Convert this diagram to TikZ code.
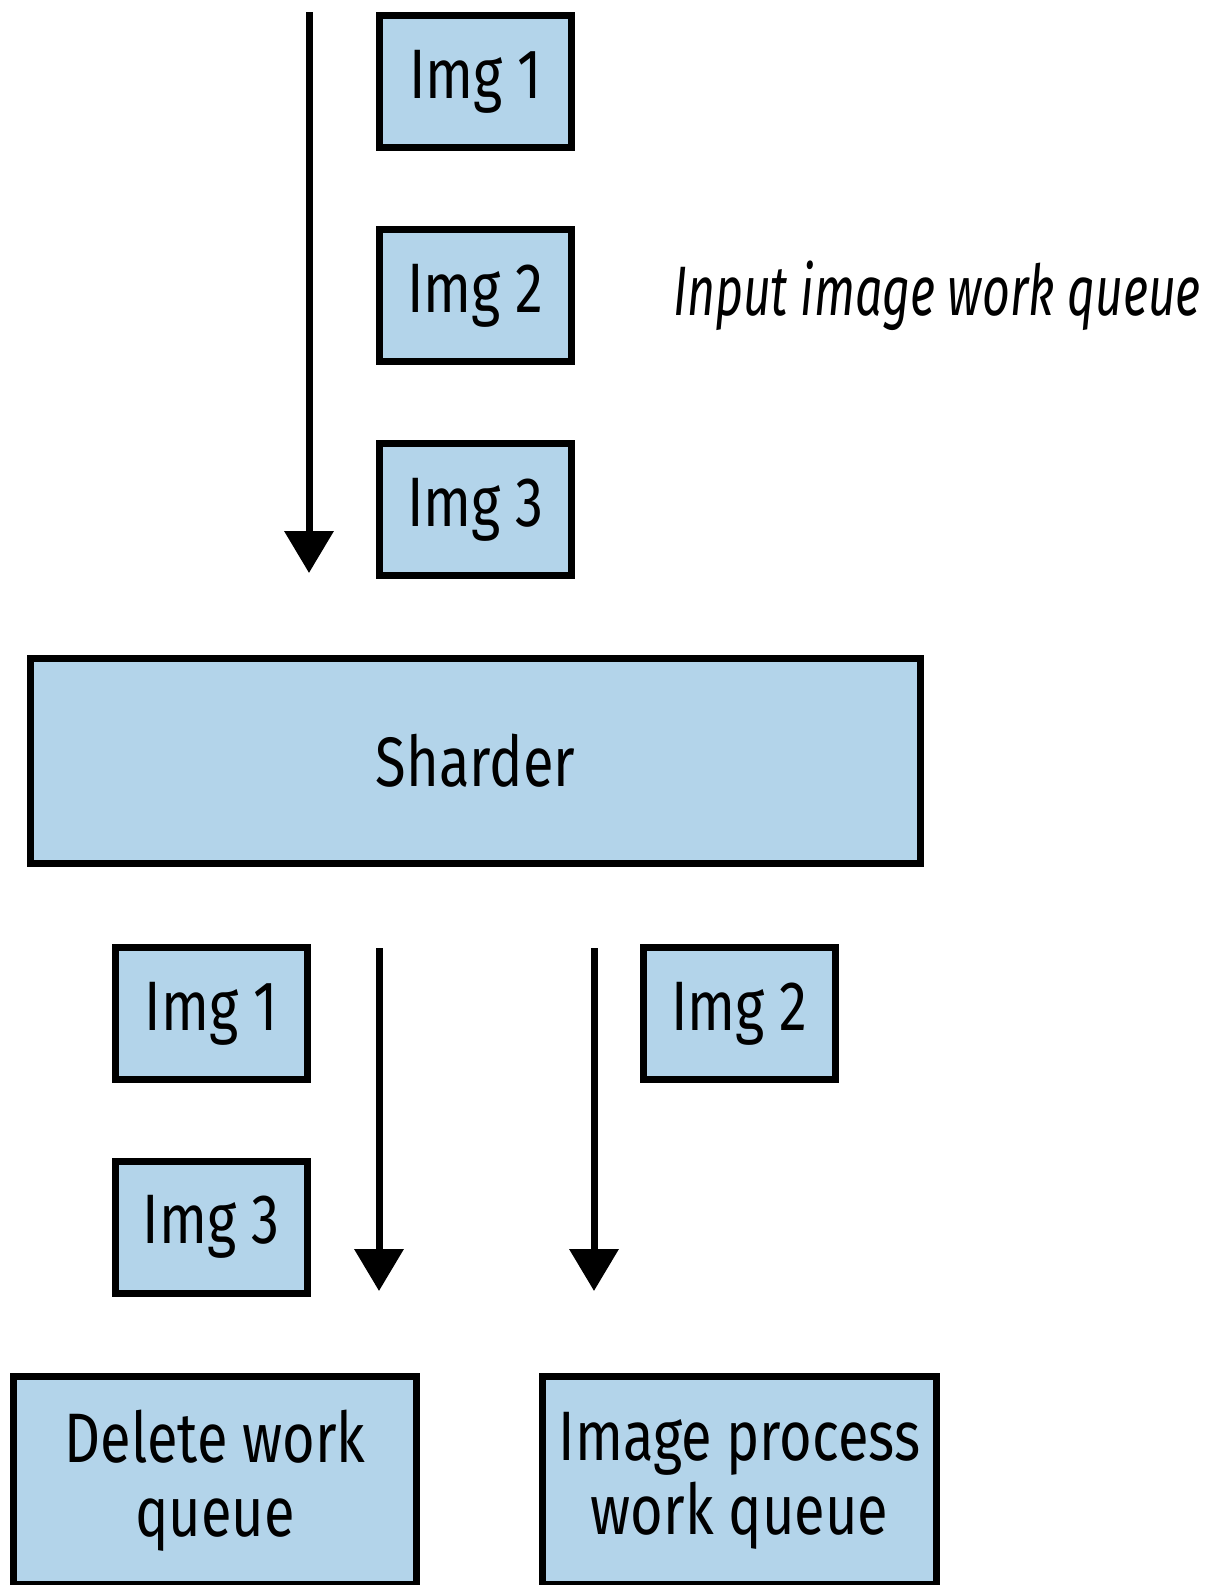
\documentclass[tikz,border=0pt]{standalone}
\usepackage{fontspec}
\setmainfont{Fira Sans}[FakeStretch=0.8]
\newfontfamily\notefont{Fira Sans}[FakeStretch=0.69]
\usetikzlibrary{arrows.meta,positioning}
\definecolor{qblue}{RGB}{179,212,234}

\begin{document}
\begin{tikzpicture}[
    x=0.5pt, y=-0.5pt,
    box/.style={draw=black, fill=qblue, line width=3.5pt, align=center, inner sep=0pt, font=\fontsize{35}{37}\selectfont},
    img/.style={box, minimum width=96pt, minimum height=66pt},
    flow/.style={line width=3.5pt, -{Triangle[width=24pt,length=21pt]}},
    note/.style={font=\fontsize{35}{37}\notefont\itshape}
]
    \useasboundingbox (0,0) rectangle (1221,1585);

    % Input queue
    \node[img] (img1a) at (475.5, 81.5) {Img 1};
    \node[img] (img2a) at (475.5, 295.5) {Img 2};
    \node[img] (img3a) at (475.5, 509.5) {Img 3};
    \node[note] (inlabel) at (937, 296) {Input image work queue};

    % Sharder
    \node[box, minimum width=445pt, minimum height=102.5pt] (sharder) at (475.5, 761) {Sharder};

    % Output queues
    \node[img] (img1b) at (211, 1013.5) {Img 1};
    \node[img] (img3b) at (211, 1227) {Img 3};
    \node[img] (img2b) at (739.5, 1013.5) {Img 2};
    \node[box, minimum width=201.5pt, minimum height=104pt] (delq) at (215, 1480.5) {Delete work\\queue};
    \node[box, minimum width=197pt, minimum height=104pt] (procq) at (739.5, 1480.5) {Image process\\work queue};

    % Arrows
    \coordinate (intop) at (309, 12);
    \coordinate (delx) at (379, 0);
    \coordinate (procx) at (594, 0);
    \draw[flow, shorten >=41pt] (intop) -- (intop |- sharder.north);
    \draw[flow, shorten <=40.5pt, shorten >=41pt] (delx |- sharder.south) -- (delx |- delq.north);
    \draw[flow, shorten <=40.5pt, shorten >=41pt] (procx |- sharder.south) -- (procx |- procq.north);

\end{tikzpicture}
\end{document}
